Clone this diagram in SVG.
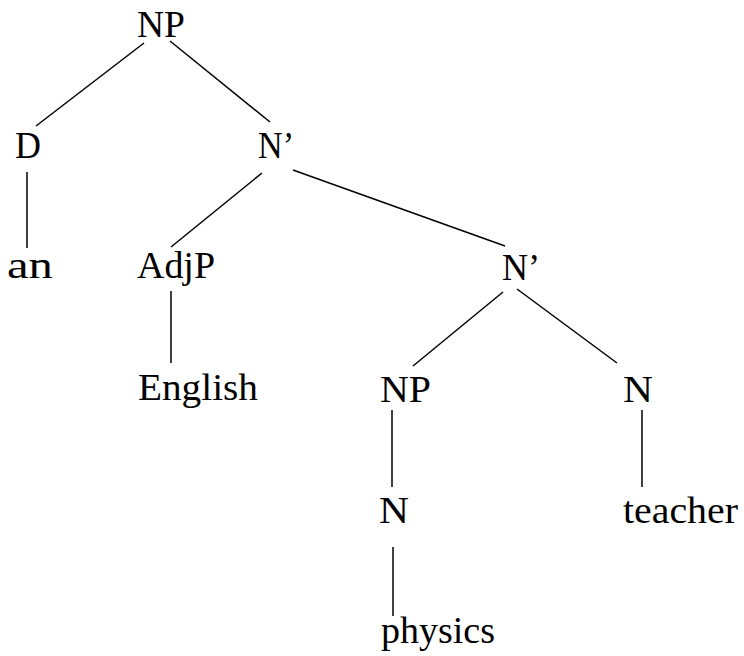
<svg xmlns="http://www.w3.org/2000/svg" width="744" height="656" viewBox="0 0 744 656">
<style>
text{font-family:"Liberation Serif","Times New Roman",serif;font-size:37px;fill:#000}
line{stroke:#000;stroke-width:1.5}
</style>
<rect width="744" height="656" fill="#fff"/>
<g id="connectors">
<line x1="144" y1="43" x2="36" y2="126"/>
<line x1="170" y1="41" x2="270" y2="122"/>
<line x1="27" y1="172" x2="27" y2="248"/>
<line x1="262" y1="173" x2="171" y2="247"/>
<line x1="293" y1="170" x2="505" y2="246"/>
<line x1="171" y1="291" x2="171" y2="363"/>
<line x1="503" y1="292" x2="413" y2="366"/>
<line x1="517" y1="289" x2="617" y2="363"/>
<line x1="392" y1="410" x2="392" y2="487"/>
<line x1="642" y1="410" x2="642" y2="487"/>
<line x1="393" y1="547" x2="393" y2="616"/>
</g>
<g id="n-np"><text x="137" y="37" textLength="48" lengthAdjust="spacingAndGlyphs">NP</text></g>
<g id="n-d"><text x="15" y="158" textLength="26" lengthAdjust="spacingAndGlyphs">D</text></g>
<g id="n-nbar1"><text x="258" y="158" textLength="36" lengthAdjust="spacingAndGlyphs">N’</text></g>
<g id="n-an"><text x="7" y="278" textLength="46" lengthAdjust="spacingAndGlyphs">an</text></g>
<g id="n-adjp"><text x="137" y="278" textLength="78" lengthAdjust="spacingAndGlyphs">AdjP</text></g>
<g id="n-nbar2"><text x="502" y="280" textLength="38" lengthAdjust="spacingAndGlyphs">N’</text></g>
<g id="n-english"><text x="138" y="400" textLength="120" lengthAdjust="spacingAndGlyphs">English</text></g>
<g id="n-np2"><text x="380" y="402" textLength="51" lengthAdjust="spacingAndGlyphs">NP</text></g>
<g id="n-n1"><text x="623" y="402" textLength="30" lengthAdjust="spacingAndGlyphs">N</text></g>
<g id="n-n2"><text x="379" y="523" textLength="30" lengthAdjust="spacingAndGlyphs">N</text></g>
<g id="n-teacher"><text x="623" y="523" textLength="115" lengthAdjust="spacingAndGlyphs">teacher</text></g>
<g id="n-physics"><text x="381" y="643" textLength="114" lengthAdjust="spacingAndGlyphs">physics</text></g>
</svg>
